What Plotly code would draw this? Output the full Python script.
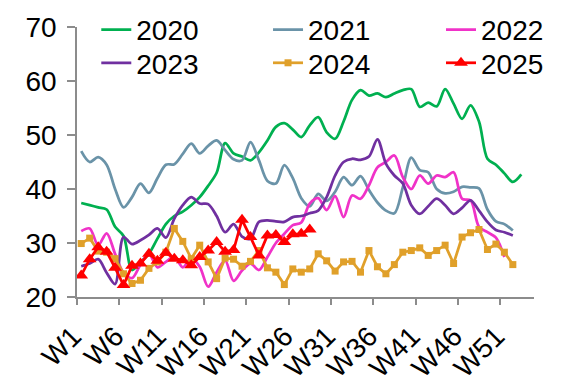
import plotly.graph_objects as go

weeks_2020 = list(range(1, 54))
weeks_52 = list(range(1, 53))
weeks_51 = list(range(1, 52))
weeks_2025 = list(range(1, 29))

tick_weeks = [1, 6, 11, 16, 21, 26, 31, 36, 41, 46, 51]
tick_labels = ["W1", "W6", "W11", "W16", "W21", "W26", "W31", "W36", "W41", "W46", "W51"]

y2020 = [37.4, 37.0, 36.6, 36.2, 33.0, 31.3, 25.0, 26.5, 28.0, 30.8,
         33.5, 35.0, 35.8, 37.0, 38.5, 40.6, 43.0, 48.5, 46.6, 46.0,
         45.3, 46.8, 49.0, 51.5, 52.2, 51.0, 49.6, 51.8, 53.3, 50.5,
         49.3, 52.5, 56.5, 58.3, 57.3, 57.7, 57.0, 57.7, 58.3, 58.5,
         55.2, 56.0, 55.3, 58.5, 55.8, 53.0, 55.5, 52.5, 45.6, 44.5,
         42.9, 41.3, 42.7]
y2021 = [47.0, 45.0, 45.9, 44.5, 40.0, 36.6, 38.5, 41.0, 39.3, 42.0,
         44.5, 44.6, 46.5, 48.4, 46.6, 48.0, 49.0, 47.2, 45.5, 45.3,
         48.7, 45.3, 41.5, 41.0, 44.4, 42.0, 38.3, 36.8, 39.1, 37.8,
         39.5, 42.2, 40.7, 42.4, 39.8, 37.5, 36.0, 35.5, 40.3, 45.8,
         43.5, 43.1, 40.0, 39.2, 39.5, 40.4, 40.3, 40.1, 36.2, 34.0,
         33.5, 32.3]
y2022 = [32.2, 32.7, 29.6, 31.8, 28.0, 24.5, 23.5, 26.0, 28.0, 25.5,
         26.5, 27.5, 25.5, 27.2, 25.6, 21.9, 24.6, 26.8, 23.0, 24.9,
         26.2, 25.0, 27.4, 30.0, 31.7, 33.3, 33.8, 37.3, 38.3, 36.1,
         38.7, 34.8, 38.8, 38.2, 40.7, 44.0, 45.0, 46.2, 42.2, 40.0,
         42.5, 41.0, 42.5, 42.2, 43.1, 38.2, 37.9, 33.0, 32.0, 31.0,
         27.4]
y2023 = [25.7, 26.2, 27.0, 24.5, 22.4, 31.1, 29.8, 30.5, 31.5, 32.7,
         31.0, 34.5, 37.0, 38.5, 37.3, 37.2, 35.0, 32.0, 33.5, 31.2,
         30.8, 33.9, 34.2, 34.0, 33.9, 34.8, 35.0, 35.5, 36.0, 38.5,
         42.5, 45.0, 45.6, 45.4, 46.0, 49.2, 44.7, 42.5, 41.0, 37.0,
         35.4, 36.8, 38.2, 37.0, 35.4, 36.5, 37.9, 36.0, 33.9, 32.4,
         32.0, 31.4]
y2024 = [29.9, 30.9, 28.5, 28.3, 27.1, 24.3, 22.5, 23.1, 25.3, 26.5,
         28.3, 32.7, 30.3, 27.1, 29.6, 26.5, 23.4, 27.2, 27.0, 25.7,
         26.6, 28.6, 25.4, 24.6, 22.3, 25.2, 24.6, 25.2, 28.0, 26.7,
         24.8, 26.5, 26.6, 24.6, 28.6, 25.6, 24.3, 26.0, 28.3, 28.6,
         29.1, 27.7, 28.6, 29.6, 26.2, 31.1, 31.9, 32.5, 28.8, 29.8,
         28.3, 26.0]
y2025 = [24.0, 27.0, 29.2, 28.4, 25.4, 22.2, 25.8, 26.2, 28.0, 26.7,
         28.2, 27.1, 26.8, 25.9, 27.4, 28.6, 30.2, 28.4, 28.7, 34.3,
         31.1, 27.7, 31.4, 31.5, 30.2, 31.6, 31.7, 32.5]

font_family = "Arial, Liberation Sans, sans-serif"
FS = 28

fig = go.Figure()
smooth_series = [
    ("2020", weeks_2020, y2020, "#00B050", "legend"),
    ("2021", weeks_52, y2021, "#6A93A8", "legend2"),
    ("2022", weeks_51, y2022, "#F032C8", "legend3"),
    ("2023", weeks_52, y2023, "#7030A0", "legend4"),
]
for name, xs, ys, col, lg in smooth_series:
    fig.add_trace(go.Scatter(x=xs, y=ys, name=name, mode="lines", legend=lg,
                             line=dict(color=col, width=2.75, shape="spline", smoothing=0.9)))

fig.add_trace(go.Scatter(x=weeks_52, y=y2024, name="2024", mode="lines+markers", legend="legend5",
                         line=dict(color="#E0A02A", width=2.75),
                         marker=dict(symbol="square", size=7, color="#E0A02A")))
fig.add_trace(go.Scatter(x=weeks_2025, y=y2025, name="2025", mode="lines+markers", legend="legend6",
                         line=dict(color="#FF0000", width=2.75),
                         marker=dict(symbol="triangle-up", size=12, color="#FF0000")))

col_x = [0.0422, 0.418, 0.7965]
row_y = [1.0822, 0.9589]


def leg(x, y):
    return dict(x=x, y=y, xanchor="left", yanchor="top", orientation="v",
                font=dict(size=FS, family=font_family, color="black"),
                bgcolor="rgba(0,0,0,0)", borderwidth=0)


# page body has an 8px margin, so the figure is 8px smaller than the window
fig.update_layout(
    width=569, height=384,
    margin=dict(l=69, r=43, t=19, b=95, autoexpand=False),
    paper_bgcolor="white", plot_bgcolor="white",
    font=dict(family=font_family, size=FS, color="black"),
    showlegend=True,
    legend=leg(col_x[0], row_y[0]),
    legend2=leg(col_x[1], row_y[0]),
    legend3=leg(col_x[2], row_y[0]),
    legend4=leg(col_x[0], row_y[1]),
    legend5=leg(col_x[1], row_y[1]),
    legend6=leg(col_x[2], row_y[1]),
)
fig.update_xaxes(
    range=[0.5, 54.5], tickmode="array", tickvals=tick_weeks, ticktext=tick_labels,
    tickangle=-45, ticks="", showline=True, linecolor="#8C8C8C", linewidth=1.5,
    showgrid=False, zeroline=False, tickfont=dict(size=FS),
    ticklabelstandoff=10, ticklabelshift=-8,
    minor=dict(tick0=0.5, dtick=5, ticks="outside", ticklen=6, tickcolor="#8C8C8C",
               tickwidth=1.5, showgrid=False),
)
fig.update_yaxes(
    range=[20, 70], tickmode="linear", tick0=20, dtick=10,
    ticks="outside", ticklen=8, tickcolor="#8C8C8C", tickwidth=1.5,
    showline=True, linecolor="#8C8C8C", linewidth=1.5,
    showgrid=False, zeroline=False, tickfont=dict(size=FS),
    ticklabelstandoff=5,
)

fig.write_html("out.html")
